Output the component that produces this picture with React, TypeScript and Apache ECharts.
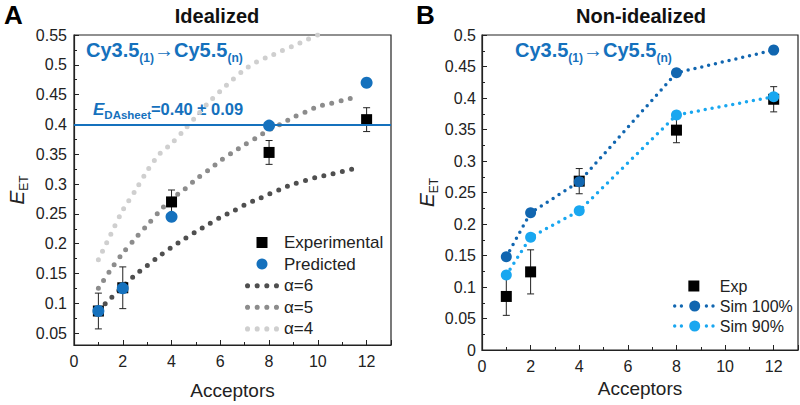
import React, { useEffect, useRef } from 'react';
import * as echarts from 'echarts';

const FONT = "'Liberation Sans', Arial, Helvetica, sans-serif";
const BLUE = '#1571bd';
const DARK_BLUE = '#1166b0';
const LIGHT_BLUE = '#19a7f0';

// Panel A – Idealized
const acceptors = [1, 2, 4, 8, 12];
const expA = [0.087, 0.126, 0.27, 0.353, 0.408];
const expAErr = [0.03, 0.035, 0.02, 0.02, 0.02];
const predA = [0.087, 0.125, 0.245, 0.398, 0.47];
const curveN = [1, 1.5, 2, 2.5, 3, 3.5, 4, 4.5, 5, 5.5, 6, 6.5, 7, 7.5, 8, 8.5, 9, 9.5, 10, 10.5, 11, 11.7];
const alpha6 = [0.088, 0.108, 0.128, 0.147, 0.163, 0.179, 0.194, 0.207, 0.22, 0.232, 0.244, 0.254, 0.265, 0.274, 0.283, 0.292, 0.3, 0.306, 0.312, 0.316, 0.321, 0.328];
const alpha5 = [0.125, 0.156, 0.184, 0.208, 0.231, 0.254, 0.275, 0.29, 0.308, 0.323, 0.339, 0.353, 0.366, 0.378, 0.391, 0.401, 0.412, 0.421, 0.43, 0.435, 0.44, 0.448];
const alpha4 = [0.173, 0.215, 0.256, 0.288, 0.322, 0.35, 0.368, 0.39, 0.413, 0.436, 0.456, 0.475, 0.492, 0.505, 0.514, 0.523, 0.532, 0.541, 0.55];

// Panel B – Non-idealized
const expB = [0.085, 0.124, 0.268, 0.349, 0.398];
const expBErr = [0.03, 0.035, 0.02, 0.02, 0.02];
const sim100 = [0.148, 0.218, 0.267, 0.44, 0.476];
const sim90 = [0.119, 0.179, 0.221, 0.373, 0.402];

const pairs = (xs: number[], ys: number[]) => ys.map((y, i) => [xs[i], y]);
const errData = (vals: number[], errs: number[]) =>
  vals.map((v, i) => [acceptors[i], v - errs[i], v + errs[i]]);

// legend icon helpers (pure geometry)
const circ = (cx: number, cy: number, r: number) =>
  `M${cx - r},${cy}a${r},${r} 0 1,0 ${2 * r},0a${r},${r} 0 1,0 ${-2 * r},0Z`;
const SQUARE_ICON = 'path://M0,0H10V10H0Z';
const DOTS_ICON = 'path://' + [2.5, 12, 21.5, 31].map((x) => circ(x, 2.5, 2.5)).join('');
const SIM_ICON =
  'path://' +
  [1.7, 8.4, 33.4, 40].map((x) => circ(x, 5.5, 1.7)).join('') +
  circ(21.7, 5.5, 5.5);

const errorBarItem = (_params: any, api: any) => {
  const x = api.value(0);
  const lo = api.coord([x, api.value(1)]);
  const hi = api.coord([x, api.value(2)]);
  const cap = 3.5;
  const style = { stroke: '#222', lineWidth: 1 };
  return {
    type: 'group',
    children: [
      { type: 'line', shape: { x1: hi[0], y1: hi[1], x2: lo[0], y2: lo[1] }, style },
      { type: 'line', shape: { x1: hi[0] - cap, y1: hi[1], x2: hi[0] + cap, y2: hi[1] }, style },
      { type: 'line', shape: { x1: lo[0] - cap, y1: lo[1], x2: lo[0] + cap, y2: lo[1] }, style },
    ],
  };
};

const xAxisCfg = (gridIndex: number, nameGap: number) => ({
  type: 'value',
  gridIndex,
  min: 0,
  max: 13,
  interval: 2,
  axisLine: { show: true, lineStyle: { color: '#222', width: 1.2 } },
  axisTick: { show: true, inside: true, length: 5, lineStyle: { color: '#222', width: 1 } },
  minorTick: { show: true, splitNumber: 2, length: 3, lineStyle: { color: '#222', width: 1 } },
  splitLine: { show: false },
  axisLabel: { color: '#222', fontSize: 16, fontFamily: FONT, margin: 8, showMaxLabel: false },
  name: 'Acceptors',
  nameLocation: 'middle',
  nameGap,
  nameTextStyle: { color: '#222', fontSize: 19, fontFamily: FONT },
});

const yName = '{e|E}{s|ET}';
const yNameStyle = {
  color: '#222',
  fontFamily: FONT,
  rich: {
    e: { fontSize: 21, fontStyle: 'italic', fontFamily: FONT, color: '#222', lineHeight: 28 },
    s: { fontSize: 12, fontFamily: FONT, color: '#222', lineHeight: 13, verticalAlign: 'bottom' },
  },
};

const yAxisCommon = {
  type: 'value',
  axisLine: { show: true, lineStyle: { color: '#222', width: 1.2 } },
  axisTick: { show: true, inside: true, length: 5, lineStyle: { color: '#222', width: 1 } },
  minorTick: { show: true, splitNumber: 2, length: 3, lineStyle: { color: '#222', width: 1 } },
  splitLine: { show: false },
  name: yName,
  nameLocation: 'middle',
  nameRotate: 90,
  nameTextStyle: yNameStyle,
};

const dotLine = (color: string, width: number, gap: number) => ({
  color,
  width,
  type: [0, gap],
  cap: 'round',
});

export default function App() {
  const ref = useRef<HTMLDivElement>(null);

  useEffect(() => {
    if (!ref.current) return;
    const chart = echarts.init(ref.current, undefined, { renderer: 'svg' });

    const option: any = {
      animation: false,
      textStyle: { fontFamily: FONT },
      grid: [
        { left: 74, top: 35, width: 317, height: 315, show: true, borderColor: '#222', borderWidth: 1.2, backgroundColor: 'transparent' },
        { left: 482, top: 35, width: 316, height: 315, show: true, borderColor: '#222', borderWidth: 1.2, backgroundColor: 'transparent' },
      ],
      xAxis: [xAxisCfg(0, 36), xAxisCfg(1, 25)],
      yAxis: [
        {
          ...yAxisCommon,
          gridIndex: 0,
          min: 0.03,
          max: 0.55,
          splitNumber: 10,
          axisLabel: { color: '#222', fontSize: 16, fontFamily: FONT, margin: 7, showMinLabel: false },
          nameGap: 44,
        },
        {
          ...yAxisCommon,
          gridIndex: 1,
          min: 0,
          max: 0.5,
          interval: 0.05,
          axisLabel: { color: '#222', fontSize: 16, fontFamily: FONT, margin: 6 },
          nameGap: 42,
        },
      ],
      legend: [
        {
          data: [
            { name: 'Experimental', icon: SQUARE_ICON },
            { name: 'Predicted', icon: 'circle' },
            { name: 'α=6', icon: DOTS_ICON },
            { name: 'α=5', icon: DOTS_ICON },
            { name: 'α=4', icon: DOTS_ICON },
          ],
          orient: 'vertical',
          left: 240,
          top: 229,
          itemWidth: 34,
          itemHeight: 11,
          itemGap: 4.6,
          symbolKeepAspect: true,
          selectedMode: false,
          textStyle: { color: '#222', fontSize: 17, fontFamily: FONT },
        },
        {
          data: [
            { name: 'Exp', icon: SQUARE_ICON },
            { name: 'Sim 100%', icon: SIM_ICON },
            { name: 'Sim 90%', icon: SIM_ICON },
          ],
          orient: 'vertical',
          left: 668,
          top: 273,
          itemWidth: 42,
          itemHeight: 11,
          itemGap: 4,
          symbolKeepAspect: true,
          selectedMode: false,
          textStyle: { color: '#222', fontSize: 16, fontFamily: FONT },
        },
      ],
      graphic: [
        { type: 'text', x: 4, y: 2, style: { text: 'A', font: `bold 26px ${FONT}`, fill: '#000' } },
        { type: 'text', x: 416, y: 2, style: { text: 'B', font: `bold 26px ${FONT}`, fill: '#000' } },
        { type: 'text', x: 217, y: 16, style: { text: 'Idealized', font: `bold 20px ${FONT}`, fill: '#111', align: 'center', verticalAlign: 'middle' } },
        { type: 'text', x: 641, y: 16, style: { text: 'Non-idealized', font: `bold 20px ${FONT}`, fill: '#111', align: 'center', verticalAlign: 'middle' } },
        ...[86, 515].map((x) => ({
          type: 'text',
          x,
          y: 50,
          style: {
            text: '{m|Cy3.5}{s|(1)}{m|→Cy5.5}{s|(n)}',
            verticalAlign: 'middle',
            rich: {
              m: { font: `bold 20px ${FONT}`, fill: BLUE, lineHeight: 28 },
              s: { font: `bold 12px ${FONT}`, fill: BLUE, lineHeight: 12, verticalAlign: 'bottom' },
            },
          },
        })),
        {
          type: 'text',
          x: 93,
          y: 109,
          style: {
            text: '{e|E}{s|DAsheet}{m|=0.40 ± 0.09}',
            verticalAlign: 'middle',
            rich: {
              e: { font: `italic bold 17px ${FONT}`, fill: BLUE, lineHeight: 24 },
              m: { font: `bold 16.5px ${FONT}`, fill: BLUE, lineHeight: 24 },
              s: { font: `bold 11.5px ${FONT}`, fill: BLUE, lineHeight: 12, verticalAlign: 'bottom' },
            },
          },
        },
      ],
      series: [
        // Panel A
        {
          name: 'α=6', type: 'line', xAxisIndex: 0, yAxisIndex: 0, data: pairs(curveN, alpha6),
          smooth: 0.3, symbol: 'none', z: 1, itemStyle: { color: '#4f4f4f', opacity: 1 },
          lineStyle: dotLine('#4f4f4f', 5, 9.5),
        },
        {
          name: 'α=5', type: 'line', xAxisIndex: 0, yAxisIndex: 0, data: pairs(curveN, alpha5),
          smooth: 0.3, symbol: 'none', z: 1, itemStyle: { color: '#8c8c8c', opacity: 1 },
          lineStyle: dotLine('#8c8c8c', 5, 9.5),
        },
        {
          name: 'α=4', type: 'line', xAxisIndex: 0, yAxisIndex: 0, data: pairs(curveN, alpha4),
          smooth: 0.3, symbol: 'none', z: 1, itemStyle: { color: '#cfcfcf', opacity: 1 },
          lineStyle: dotLine('#cfcfcf', 5, 9.5),
        },
        {
          name: 'errA', type: 'custom', xAxisIndex: 0, yAxisIndex: 0, data: errData(expA, expAErr),
          renderItem: errorBarItem, encode: { x: 0, y: [1, 2] }, z: 2, silent: true,
        },
        {
          name: 'Experimental', type: 'scatter', xAxisIndex: 0, yAxisIndex: 0, data: pairs(acceptors, expA),
          symbol: 'rect', symbolSize: 11, itemStyle: { color: '#000', opacity: 1 }, z: 3,
        },
        {
          name: 'Predicted', type: 'scatter', xAxisIndex: 0, yAxisIndex: 0, data: pairs(acceptors, predA),
          symbol: 'circle', symbolSize: 12, itemStyle: { color: BLUE, opacity: 1 }, z: 4,
          markLine: {
            silent: true, symbol: ['none', 'none'], label: { show: false },
            lineStyle: { color: BLUE, width: 2, type: 'solid' },
            data: [{ yAxis: 0.4 }],
          },
        },
        // Panel B
        {
          name: 'errB', type: 'custom', xAxisIndex: 1, yAxisIndex: 1, data: errData(expB, expBErr),
          renderItem: errorBarItem, encode: { x: 0, y: [1, 2] }, z: 2, silent: true,
        },
        {
          name: 'Exp', type: 'scatter', xAxisIndex: 1, yAxisIndex: 1, data: pairs(acceptors, expB),
          symbol: 'rect', symbolSize: 11, itemStyle: { color: '#000', opacity: 1 }, z: 3,
        },
        {
          name: 'Sim 100%', type: 'line', xAxisIndex: 1, yAxisIndex: 1, data: pairs(acceptors, sim100),
          symbol: 'circle', symbolSize: 11, showSymbol: true, itemStyle: { color: DARK_BLUE, opacity: 1 }, z: 4,
          lineStyle: dotLine(DARK_BLUE, 3.5, 7),
        },
        {
          name: 'Sim 90%', type: 'line', xAxisIndex: 1, yAxisIndex: 1, data: pairs(acceptors, sim90),
          symbol: 'circle', symbolSize: 11, showSymbol: true, itemStyle: { color: LIGHT_BLUE, opacity: 1 }, z: 4,
          lineStyle: dotLine(LIGHT_BLUE, 3.5, 7),
        },
      ],
    };

    chart.setOption(option);
    return () => chart.dispose();
  }, []);

  return (
    <div
      ref={ref}
      style={{ position: 'absolute', left: 0, top: 0, width: 800, height: 405, background: '#fff' }}
    />
  );
}
